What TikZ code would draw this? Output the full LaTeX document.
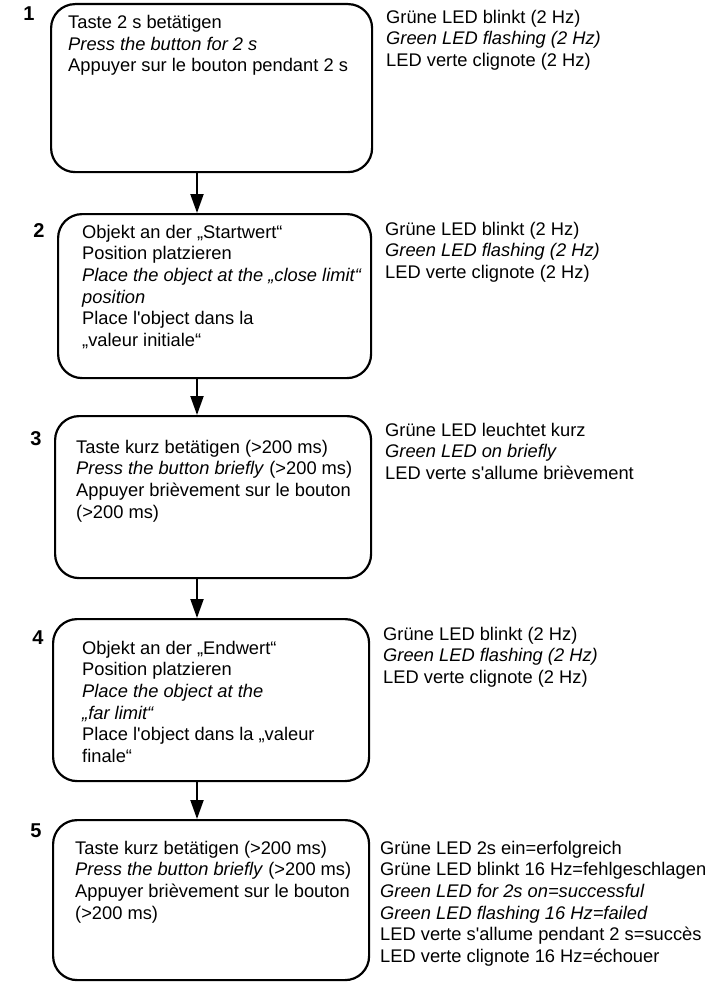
\documentclass[tikz,border=0pt]{standalone}
\usepackage{fontspec}
\setmainfont{Liberation Sans}
\newfontfamily\lsans{Liberation Sans}
\usetikzlibrary{arrows.meta}
\begin{document}
\begin{tikzpicture}[x=1pt,y=-1pt,
  box/.style={draw, line width=2.2pt, rounded corners=24pt, anchor=north west, inner sep=0pt},
  txt/.style={anchor=north west, inner sep=0pt, align=left, font=\fontsize{18.3}{21.6}\lsans},
  num/.style={anchor=base, inner sep=0pt, font=\fontsize{20}{24}\lsans\bfseries},
  arr/.style={line width=2pt, -{Triangle[width=13pt,length=19pt]}}]
\useasboundingbox (0,0) rectangle (709,982);

% boxes
\node[box, minimum width=321pt, minimum height=168pt] (b1) at (50,3) {};
\node[box, minimum width=313pt, minimum height=164pt] (b2) at (57,213) {};
\node[box, minimum width=316pt, minimum height=162pt] (b3) at (54,415) {};
\node[box, minimum width=316pt, minimum height=162pt] (b4) at (52,618) {};
\node[box, minimum width=316pt, minimum height=160pt] (b5) at (52,819) {};

% step numbers
\node[num] (n1) at (29,21) {1};
\node[num] (n2) at (39,237) {2};
\node[num] (n3) at (36,445) {3};
\node[num] (n4) at (38,644) {4};
\node[num] (n5) at (36,837) {5};

% box texts
\node[txt] (t1) at (68,13.4) {\strut Taste 2 s betätigen\\\textit{Press the button for 2 s}\\Appuyer sur le bouton pendant 2 s};
\node[txt] (t2) at (82,222.9) {\strut Objekt an der „Startwert“\\Position platzieren\\\textit{Place the object at the „close limit“}\\\textit{position}\\Place l'object dans la\\„valeur initiale“};
\node[txt] (t3) at (76,438) {\strut Taste kurz betätigen (>200 ms)\\\textit{Press the button briefly} (>200 ms)\\Appuyer brièvement sur le bouton\\(>200 ms)};
\node[txt] (t4) at (82,639) {\strut Objekt an der „Endwert“\\Position platzieren\\\textit{Place the object at the}\\\textit{„far limit“}\\Place l'object dans la „valeur\\finale“};
\node[txt] (t5) at (75,839) {\strut Taste kurz betätigen (>200 ms)\\\textit{Press the button briefly} (>200 ms)\\Appuyer brièvement sur le bouton\\(>200 ms)};

% LED texts
\node[txt] (r1) at (386,8) {\strut Grüne LED blinkt (2 Hz)\\\textit{Green LED flashing (2 Hz)}\\LED verte clignote (2 Hz)};
\node[txt] (r2) at (385,220) {\strut Grüne LED blinkt (2 Hz)\\\textit{Green LED flashing (2 Hz)}\\LED verte clignote (2 Hz)};
\node[txt] (r3) at (385,421) {\strut Grüne LED leuchtet kurz\\\textit{Green LED on briefly}\\LED verte s'allume brièvement};
\node[txt] (r4) at (383,625) {\strut Grüne LED blinkt (2 Hz)\\\textit{Green LED flashing (2 Hz)}\\LED verte clignote (2 Hz)};
\node[txt] (r5) at (380,839) {\strut Grüne LED 2s ein=erfolgreich\\Grüne LED blinkt 16 Hz=fehlgeschlagen\\\textit{Green LED for 2s on=successful}\\\textit{Green LED flashing 16 Hz=failed}\\LED verte s'allume pendant 2 s=succès\\LED verte clignote 16 Hz=échouer};

% connectors
\coordinate (ax) at (197,0);
\draw[arr] (ax |- b1.south) -- (ax |- b2.north);
\draw[arr] (ax |- b2.south) -- (ax |- b3.north);
\draw[arr] (ax |- b3.south) -- (ax |- b4.north);
\draw[arr] (ax |- b4.south) -- (ax |- b5.north);
\end{tikzpicture}
\end{document}
